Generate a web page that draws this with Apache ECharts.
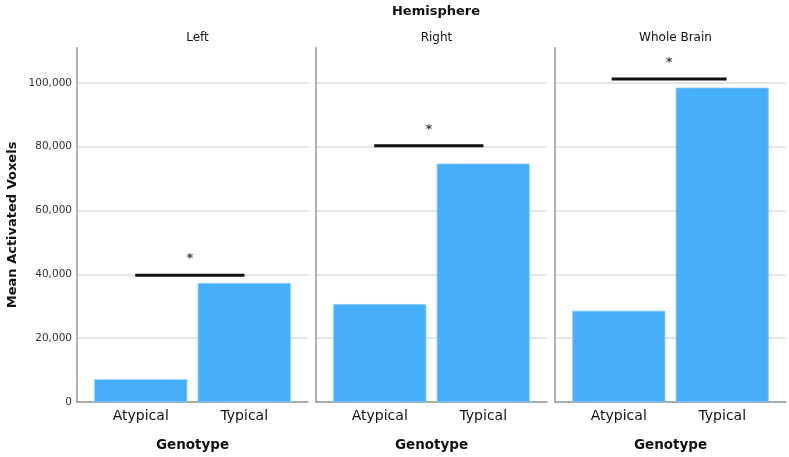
<!DOCTYPE html>
<html>
<head>
<meta charset="utf-8">
<script src="https://cdn.jsdelivr.net/npm/echarts@6/dist/echarts.min.js"></script>
<style>html,body{margin:0;padding:0;background:#fff}#c{width:789px;height:457px}</style>
</head>
<body>
<div id="c"></div>
<script>
const panels = ['Left', 'Right', 'Whole Brain'];
const categories = ['Atypical', 'Typical'];
const atypicalValues = [7100, 30700, 28600];
const typicalValues = [37300, 74700, 98500];
const sigLevels = [39700, 80300, 101200];
const sigLabels = ['*', '*', '*'];
const yTicks = [0, 20000, 40000, 60000, 80000, 100000];

const FONT = 'DejaVu Sans';
const chart = echarts.init(document.getElementById('c'));
const grids = [], xAxes = [], yAxes = [], series = [], titles = [];
const gridLeft = [77, 316, 555];
titles.push({text: 'Hemisphere', left: 431, top: 0, textAlign: 'center',
  textStyle: {fontFamily: FONT, fontSize: 13, fontWeight: 'bold', color: '#111'}});
panels.forEach((p, i) => {
  grids.push({left: gridLeft[i], width: 231, top: 47.8, bottom: 54});
  titles.push({text: p, left: gridLeft[i] + 115.5, top: 27, textAlign: 'center',
    textStyle: {fontFamily: FONT, fontSize: 12, fontWeight: 'normal', color: '#111'}});
  xAxes.push({type: 'category', gridIndex: i, data: categories,
    axisLine: {lineStyle: {color: '#8e9c9c', width: 1.5}}, axisTick: {show: false},
    axisLabel: {margin: 7, fontFamily: FONT, fontSize: 14, color: '#111',
      formatter: v => v === 'Atypical' ? '{a|' + v + '}' : '{b|' + v + '}',
      rich: {a: {padding: [0, 0, 0, 12], fontFamily: FONT, fontSize: 14, color: '#111'},
             b: {padding: [0, 12, 0, 0], fontFamily: FONT, fontSize: 14, color: '#111'}}},
    name: 'Genotype', nameLocation: 'middle', nameGap: 36,
    nameTextStyle: {fontFamily: FONT, fontSize: 13.5, fontWeight: 'bold', color: '#111'}});
  yAxes.push({type: 'value', gridIndex: i, min: 0, max: 111000, interval: 20000,
    axisLine: {show: true, lineStyle: {color: '#8e9c9c', width: 1.5}}, axisTick: {show: false},
    axisLabel: {show: i === 0, margin: 5, fontFamily: FONT, fontSize: 10.5, color: '#333',
      formatter: v => yTicks.includes(v) ? v.toLocaleString('en-US') : ''},
    splitLine: {show: true, showMaxLine: false, lineStyle: {color: '#d8e0e0', width: 1.5}},
    name: i === 0 ? 'Mean Activated Voxels' : '', nameLocation: 'middle', nameGap: 58,
    nameTextStyle: {fontFamily: FONT, fontSize: 13, fontWeight: 'bold', color: '#111'}});
});
panels.forEach((p, i) => {
  xAxes.push({type: 'value', gridIndex: i, min: 0, max: 1, show: false});
});
panels.forEach((p, i) => {
  const barStyle = {color: '#47aefc', borderColor: '#7cc6fd', borderWidth: 0.8};
  series.push({type: 'bar', xAxisIndex: i, yAxisIndex: i, barWidth: 93, barGap: '-113%',
    itemStyle: barStyle, data: [atypicalValues[i], '-'], silent: true});
  series.push({type: 'bar', xAxisIndex: i, yAxisIndex: i, barWidth: 93, barGap: '-113%',
    itemStyle: barStyle, data: ['-', typicalValues[i]], silent: true});
  const x0 = i === 2 ? 0.245 : 0.252, x1 = i === 2 ? 0.743 : 0.725;
  series.push({type: 'line', xAxisIndex: 3 + i, yAxisIndex: i, symbol: 'none', silent: true,
    lineStyle: {color: '#111', width: 3}, z: 5,
    data: [[x0, sigLevels[i]], [x1, sigLevels[i]]]});
  series.push({type: 'scatter', xAxisIndex: 3 + i, yAxisIndex: i, symbolSize: 0, silent: true,
    label: {show: true, position: 'top', distance: 10, formatter: sigLabels[i],
      fontFamily: FONT, fontSize: 13, fontWeight: 'bold', color: '#111'},
    data: [[(x0 + x1) / 2, sigLevels[i]]]});
});
chart.setOption({animation: false, title: titles, grid: grids, xAxis: xAxes, yAxis: yAxes, series: series});
</script>
</body>
</html>
